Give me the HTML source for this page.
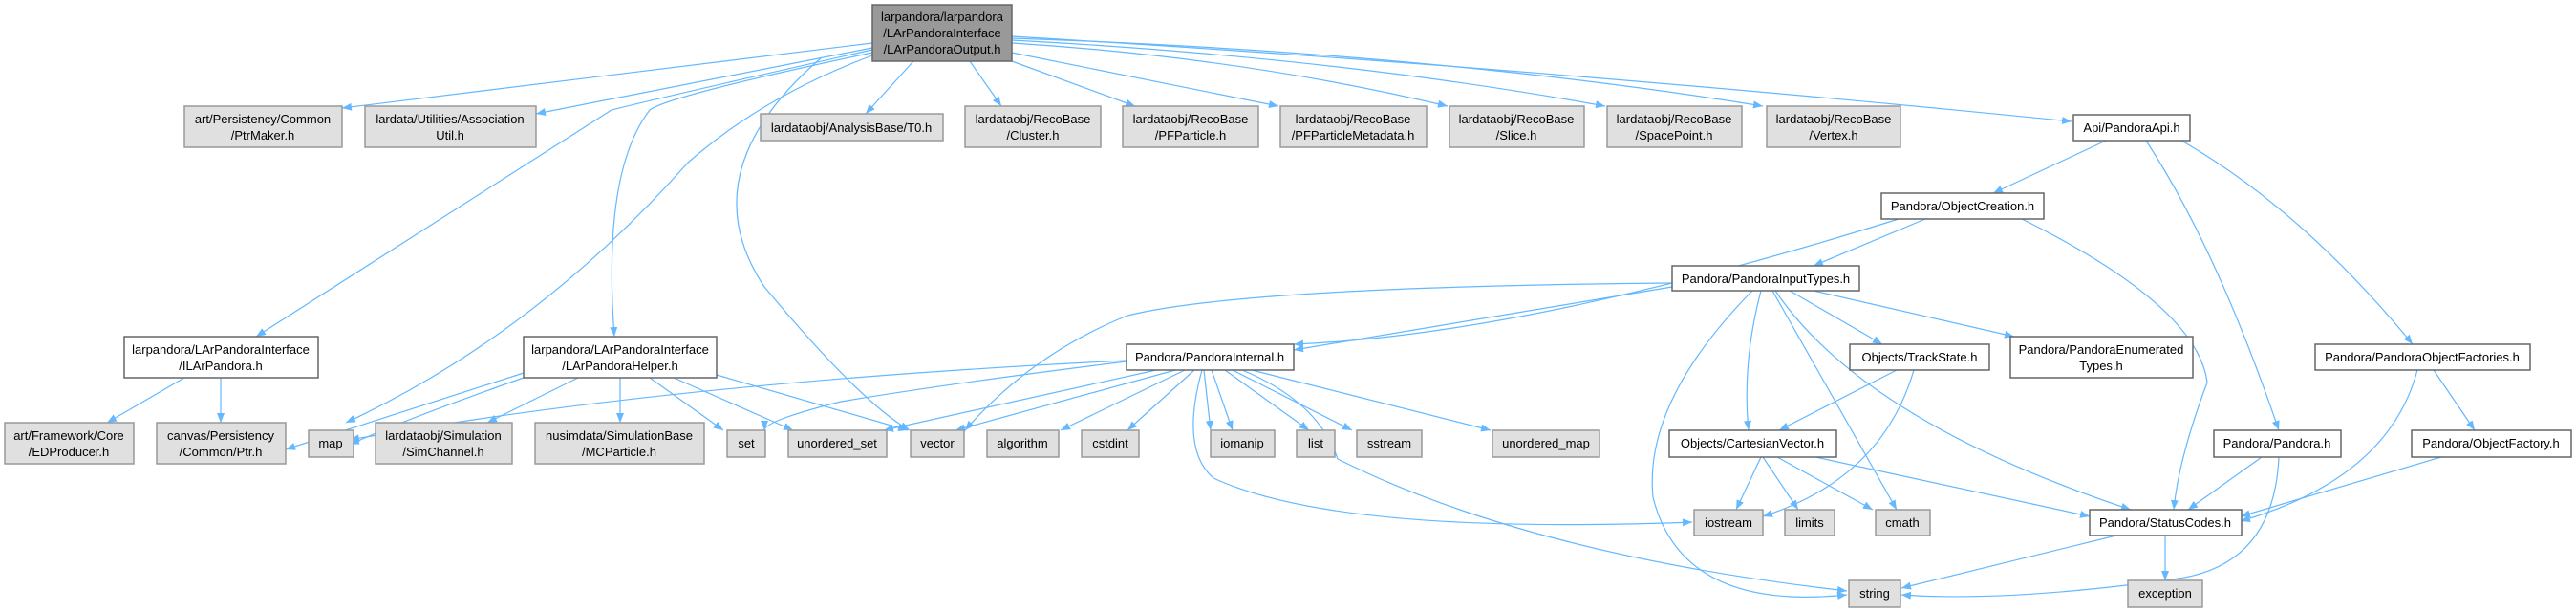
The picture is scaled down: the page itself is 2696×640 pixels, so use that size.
<!DOCTYPE html>
<html><head><meta charset="utf-8"><style>
html,body{margin:0;padding:0;background:#fff;}
svg{display:block;}
text{font-family:"Liberation Sans",sans-serif;font-size:13px;fill:#000;text-anchor:middle;}
.g{fill:#e0e0e0;stroke:#999;stroke-width:1.5}
.w{fill:#fff;stroke:#666;stroke-width:1.5}
.e{fill:none;stroke:#63b8ff;stroke-width:1.2}
</style></head><body>
<svg width="2696" height="640" viewBox="0 0 2696 640" xmlns="http://www.w3.org/2000/svg">
<defs><marker id="a" viewBox="0 0 10 10" refX="10" refY="5" markerWidth="10" markerHeight="10" markerUnits="userSpaceOnUse" orient="auto"><path d="M0,1 L10,5 L0,9 z" fill="#63b8ff"/></marker></defs>
<g class="e" marker-end="url(#a)">
<path d="M913,45 L358,113"/>
<path d="M913,50 L561,119"/>
<path d="M956,64 L906,119"/>
<path d="M1015,64 L1048,111"/>
<path d="M1059,64 L1188,111"/>
<path d="M1059,55 L1338,111"/>
<path d="M1059,45 Q1300,60 1515,111"/>
<path d="M1059,42 Q1400,60 1680,111"/>
<path d="M1059,40 Q1500,55 1845,111"/>
<path d="M1059,38 Q1600,70 2168,127"/>
<path d="M913,52 Q700,100 640,115 L268,352"/>
<path d="M913,55 Q700,100 680,115 Q630,180 643,352"/>
<path d="M913,58 Q800,100 720,170 Q560,350 362,442"/>
<path d="M860,60 Q720,180 800,300 Q900,420 952,450"/>
<path d="M193,395 L112,442"/>
<path d="M231,395 L231,442"/>
<path d="M548,390 L299,470"/>
<path d="M548,395 Q420,440 366,465"/>
<path d="M605,395 L510,442"/>
<path d="M649,395 L649,442"/>
<path d="M680,395 L757,450"/>
<path d="M705,395 L830,450"/>
<path d="M750,392 L950,450"/>
<path d="M1179,377 Q700,400 366,460"/>
<path d="M1179,378 Q1000,400 880,420 Q800,440 800,450"/>
<path d="M1210,387 L925,450"/>
<path d="M1230,387 L1000,450"/>
<path d="M1240,387 L1110,450"/>
<path d="M1250,387 L1180,450"/>
<path d="M1260,387 L1267,450"/>
<path d="M1268,387 L1290,450"/>
<path d="M1282,387 L1370,450"/>
<path d="M1290,387 L1415,450"/>
<path d="M1310,387 L1560,450"/>
<path d="M1300,387 Q1380,420 1400,480 Q1600,580 1933,618"/>
<path d="M1258,387 Q1235,470 1270,500 Q1400,560 1771,546"/>
<path d="M2204,147 L2086,202"/>
<path d="M2246,147 Q2320,260 2385,450"/>
<path d="M2283,147 Q2410,220 2525,360"/>
<path d="M2015,229 L1898,278"/>
<path d="M1987,229 Q1600,350 1354,360"/>
<path d="M2116,229 Q2300,320 2310,400 Q2280,480 2275,533"/>
<path d="M1750,296 Q1300,300 1180,330 Q1080,370 1010,450"/>
<path d="M1750,300 L1354,366"/>
<path d="M1834,304 Q1720,420 1730,520 Q1760,640 1933,622"/>
<path d="M1843,304 Q1823,380 1830,450"/>
<path d="M1855,304 L1985,533"/>
<path d="M1858,304 Q1950,440 2230,533"/>
<path d="M1873,304 L1970,360"/>
<path d="M1898,304 L2108,352"/>
<path d="M1985,387 L1862,450"/>
<path d="M2003,387 Q1970,500 1845,540"/>
<path d="M1843,478 L1817,533"/>
<path d="M1845,478 L1882,533"/>
<path d="M1860,478 L1960,533"/>
<path d="M1900,478 L2187,540"/>
<path d="M2367,478 L2290,533"/>
<path d="M2385,478 Q2380,590 2280,605 Q2100,630 1990,622"/>
<path d="M2530,387 Q2500,500 2345,545"/>
<path d="M2547,387 L2590,450"/>
<path d="M2555,478 L2345,540"/>
<path d="M2215,560 L1990,615"/>
<path d="M2266,560 L2266,607"/>
</g>
<g>
<rect class="w" x="913" y="5" width="146" height="59" style="fill:#999;stroke:#666"/>
<text x="986" y="22">larpandora/larpandora</text><text x="986" y="39">/LArPandoraInterface</text><text x="986" y="56">/LArPandoraOutput.h</text>
<rect class="g" x="193" y="111" width="165" height="43"/><text x="275" y="129">art/Persistency/Common</text><text x="275" y="146">/PtrMaker.h</text>
<rect class="g" x="382" y="111" width="179" height="43"/><text x="471" y="129">lardata/Utilities/Association</text><text x="471" y="146">Util.h</text>
<rect class="g" x="796" y="119" width="191" height="28"/><text x="891" y="138">lardataobj/AnalysisBase/T0.h</text>
<rect class="g" x="1010" y="111" width="142" height="43"/><text x="1081" y="129">lardataobj/RecoBase</text><text x="1081" y="146">/Cluster.h</text>
<rect class="g" x="1175" y="111" width="142" height="43"/><text x="1246" y="129">lardataobj/RecoBase</text><text x="1246" y="146">/PFParticle.h</text>
<rect class="g" x="1340" y="111" width="153" height="43"/><text x="1416" y="129">lardataobj/RecoBase</text><text x="1416" y="146">/PFParticleMetadata.h</text>
<rect class="g" x="1517" y="111" width="141" height="43"/><text x="1587" y="129">lardataobj/RecoBase</text><text x="1587" y="146">/Slice.h</text>
<rect class="g" x="1682" y="111" width="141" height="43"/><text x="1752" y="129">lardataobj/RecoBase</text><text x="1752" y="146">/SpacePoint.h</text>
<rect class="g" x="1849" y="111" width="140" height="43"/><text x="1919" y="129">lardataobj/RecoBase</text><text x="1919" y="146">/Vertex.h</text>
<rect class="w" x="2170" y="120" width="122" height="27"/><text x="2231" y="138">Api/PandoraApi.h</text>
<rect class="w" x="1969" y="202" width="170" height="27"/><text x="2054" y="220">Pandora/ObjectCreation.h</text>
<rect class="w" x="1750" y="278" width="196" height="26"/><text x="1848" y="296">Pandora/PandoraInputTypes.h</text>
<rect class="w" x="1936" y="360" width="146" height="27"/><text x="2009" y="378">Objects/TrackState.h</text>
<rect class="w" x="2104" y="352" width="191" height="43"/><text x="2199" y="370">Pandora/PandoraEnumerated</text><text x="2199" y="387">Types.h</text>
<rect class="w" x="2423" y="360" width="225" height="27"/><text x="2535" y="378">Pandora/PandoraObjectFactories.h</text>
<rect class="w" x="1747" y="450" width="175" height="28"/><text x="1834" y="468">Objects/CartesianVector.h</text>
<rect class="w" x="2317" y="450" width="133" height="28"/><text x="2383" y="468">Pandora/Pandora.h</text>
<rect class="w" x="2524" y="450" width="167" height="28"/><text x="2607" y="468">Pandora/ObjectFactory.h</text>
<rect class="g" x="1773" y="533" width="72" height="27"/><text x="1809" y="551">iostream</text>
<rect class="g" x="1868" y="533" width="52" height="27"/><text x="1894" y="551">limits</text>
<rect class="g" x="1963" y="533" width="57" height="27"/><text x="1991" y="551">cmath</text>
<rect class="w" x="2187" y="533" width="159" height="27"/><text x="2266" y="551">Pandora/StatusCodes.h</text>
<rect class="g" x="1935" y="607" width="54" height="28"/><text x="1962" y="625">string</text>
<rect class="g" x="2227" y="607" width="78" height="28"/><text x="2266" y="625">exception</text>
<rect class="g" x="1357" y="450" width="40" height="28"/><text x="1377" y="468">list</text>
<rect class="g" x="1420" y="450" width="68" height="28"/><text x="1454" y="468">sstream</text>
<rect class="g" x="1562" y="450" width="112" height="28"/><text x="1618" y="468">unordered_map</text>
<rect class="w" x="130" y="352" width="203" height="43"/><text x="231" y="370">larpandora/LArPandoraInterface</text><text x="231" y="387">/ILArPandora.h</text>
<rect class="w" x="548" y="352" width="202" height="43"/><text x="649" y="370">larpandora/LArPandoraInterface</text><text x="649" y="387">/LArPandoraHelper.h</text>
<rect class="w" x="1179" y="360" width="175" height="27"/><text x="1266" y="378">Pandora/PandoraInternal.h</text>
<rect class="g" x="5" y="442" width="135" height="43"/><text x="72" y="460">art/Framework/Core</text><text x="72" y="477">/EDProducer.h</text>
<rect class="g" x="164" y="442" width="135" height="43"/><text x="231" y="460">canvas/Persistency</text><text x="231" y="477">/Common/Ptr.h</text>
<rect class="g" x="323" y="450" width="47" height="28"/><text x="346" y="468">map</text>
<rect class="g" x="393" y="442" width="143" height="43"/><text x="464" y="460">lardataobj/Simulation</text><text x="464" y="477">/SimChannel.h</text>
<rect class="g" x="560" y="442" width="177" height="43"/><text x="648" y="460">nusimdata/SimulationBase</text><text x="648" y="477">/MCParticle.h</text>
<rect class="g" x="761" y="450" width="40" height="28"/><text x="781" y="468">set</text>
<rect class="g" x="825" y="450" width="103" height="28"/><text x="876" y="468">unordered_set</text>
<rect class="g" x="953" y="450" width="56" height="28"/><text x="981" y="468">vector</text>
<rect class="g" x="1033" y="450" width="75" height="28"/><text x="1070" y="468">algorithm</text>
<rect class="g" x="1132" y="450" width="60" height="28"/><text x="1162" y="468">cstdint</text>
<rect class="g" x="1267" y="450" width="67" height="28"/><text x="1300" y="468">iomanip</text>
</g>
</svg>
</body></html>
